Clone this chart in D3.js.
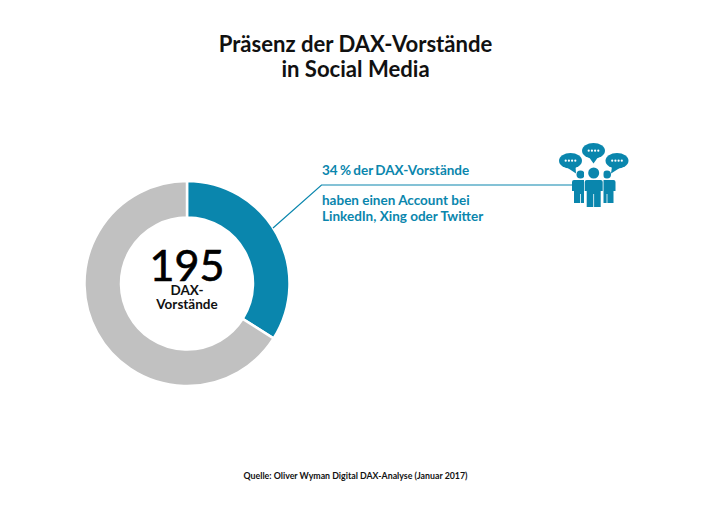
<!DOCTYPE html>
<html>
<head>
<meta charset="utf-8">
<script src="https://cdn.jsdelivr.net/npm/d3@7"></script>
<style>
html,body{margin:0;padding:0;background:#fff;}
svg{display:block;}
text{font-family:Lato,"Open Sans",sans-serif;}
</style>
</head>
<body>
<script>
var categories = ["Mit Account", "Ohne Account"];
var shares = [34, 66];
var total = "195";
var totalLabel = ["DAX-", "Vorstände"];
var titleLines = ["Präsenz der DAX-Vorstände", "in Social Media"];
var noteLines = ["34 % der DAX-Vorstände", "haben einen Account bei", "LinkedIn, Xing oder Twitter"];
var source = "Quelle: Oliver Wyman Digital DAX-Analyse (Januar 2017)";

var blue = "#0a86ad";
var grey = "#c1c1c1";

var color = d3.scaleOrdinal().domain(categories).range([blue, grey]);

var svg = d3.select("body").append("svg").attr("width",710).attr("height",507);

// title
svg.selectAll("text.title")
    .data(titleLines)
    .enter().append("text")
        .attr("class","title")
        .attr("x",355.5)
        .attr("y",function(d,i){return 52+i*25;})
        .attr("text-anchor","middle")
        .attr("font-size","22.1")
        .attr("font-weight","700")
        .attr("fill","#111")
        .text(function(d){return d;});

// donut
var pie = d3.pie().sort(null).value(function(d){return d;});
var arc = d3.arc().innerRadius(66).outerRadius(102.5);

var donut = svg.append("g").attr("transform","translate(187,283.5)");

donut.selectAll("path")
    .data(pie(shares))
    .enter().append("path")
        .attr("d",arc)
        .attr("fill",function(d,i){return color(categories[i]);})
        .attr("stroke","#fff")
        .attr("stroke-width","2.5");

// centre label, one text block
var centre = donut.append("text").attr("text-anchor","middle");

centre.append("tspan")
    .attr("x",0)
    .attr("y",-3)
    .attr("font-size","43")
    .attr("font-weight","400")
    .attr("fill","#000")
    .attr("stroke","#000")
    .attr("stroke-width","0.7")
    .text(total);

centre.selectAll("tspan.sub")
    .data(totalLabel)
    .enter().append("tspan")
        .attr("class","sub")
        .attr("x",0)
        .attr("y",function(d,i){return 11.5+i*14;})
        .attr("font-size","13.5")
        .attr("font-weight","700")
        .attr("fill","#111")
        .text(function(d){return d;});

// leader line
svg.append("polyline")
    .attr("points","273,228 321.5,185 575,185")
    .attr("fill","none")
    .attr("stroke",blue)
    .attr("stroke-width","1.2");

// note
svg.selectAll("text.note")
    .data(noteLines)
    .enter().append("text")
        .attr("class","note")
        .attr("x",322)
        .attr("y",function(d,i){return i==0 ? 175 : 189+i*16;})
        .attr("font-size","13.5")
        .attr("font-weight","700")
        .attr("word-spacing",function(d,i){return i==0 ? "-1" : "0";})
        .attr("fill",blue)
        .text(function(d){return d;});

// people icon
var icon = svg.append("g").attr("fill",blue);

function bubble(cx,cy,rx,ry,tipX){
    icon.append("ellipse").attr("cx",cx).attr("cy",cy).attr("rx",rx).attr("ry",ry);
    icon.append("path").attr("d","M"+(cx-5)+","+(cy+ry-2)+"L"+tipX+","+(cy+ry+5)+"L"+(cx+5)+","+(cy+ry-2)+"Z");
    [-4.8,-1.6,1.6,4.8].forEach(function(o){
        icon.append("circle").attr("cx",cx+o).attr("cy",cy).attr("r",1.1).attr("fill","#fff");
    });
}
bubble(570.5,160.7,11.5,7.8,576);
bubble(593.5,150.7,11.5,7.8,593.5);
bubble(617,160.7,11.5,7.8,611);

function person(cx,top,headR,halfW,bottom){
    icon.append("circle").attr("cx",cx).attr("cy",top-headR-1.5).attr("r",headR);
    icon.append("path").attr("d",
        "M"+(cx-halfW)+","+(top+2)
        +"Q"+(cx-halfW)+","+top+" "+(cx-halfW+2)+","+top
        +"H"+(cx+halfW-2)
        +"Q"+(cx+halfW)+","+top+" "+(cx+halfW)+","+(top+2)
        +"V"+(top+11)
        +"H"+(cx+halfW-2)
        +"V"+bottom
        +"H"+(cx+0.4)
        +"V"+(top+14)
        +"H"+(cx-0.4)
        +"V"+bottom
        +"H"+(cx-halfW+2)
        +"V"+(top+11)
        +"H"+(cx-halfW)
        +"Z");
}
person(580.5,180,4,8.5,203);
person(607,180,4,8.5,203);
icon.append("rect").attr("x",584).attr("y",170).attr("width",19.5).attr("height",40).attr("fill","#fff");
person(593.7,180,5.5,9,207);

// source
svg.append("text")
    .attr("x",355.5)
    .attr("y",479)
    .attr("text-anchor","middle")
    .attr("font-size","8.8")
    .attr("font-weight","700")
    .attr("fill","#111")
    .text(source);
</script>
</body>
</html>
